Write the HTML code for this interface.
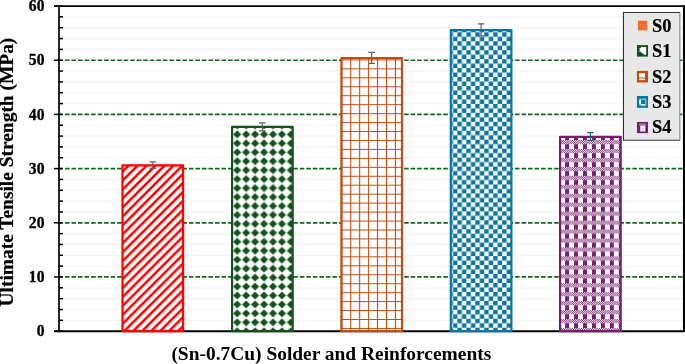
<!DOCTYPE html>
<html lang="en"><head><meta charset="utf-8"><title>Ultimate Tensile Strength chart</title>
<style>html,body{margin:0;padding:0;background:#fff;overflow:hidden}svg{display:block}text{font-family:"Liberation Serif","Times New Roman",serif;font-weight:bold;fill:#000}</style>
</head><body>
<svg width="685" height="364" viewBox="0 0 685 364">
<defs>
<pattern id="pRed" patternUnits="userSpaceOnUse" width="8.952" height="8.952" x="7.784" y="0"><rect width="8.952" height="8.952" fill="#fff"/><path d="M-8.952,8.952 L8.952,-8.952 M0,8.952 L8.952,0 M0,17.904 L17.904,0" stroke="#ff0000" stroke-width="2.6" fill="none"/></pattern>
<pattern id="pGreen" patternUnits="userSpaceOnUse" width="8.952" height="8.952" x="8.924" y="4.566"><rect width="8.952" height="8.952" fill="#fff"/><path d="M4.476,0.42600000000000016 L8.526,4.476 L4.476,8.526 L0.42600000000000016,4.476 Z" fill="#14521c"/></pattern>
<pattern id="pOrange" patternUnits="userSpaceOnUse" width="8.952" height="8.952" x="6.048" y="1.71"><rect width="8.952" height="8.952" fill="#fff"/><path d="M4.476,0 V8.952 M0,4.476 H8.952" stroke="#c04f15" stroke-width="1.15" fill="none"/></pattern>
<pattern id="pBlue" patternUnits="userSpaceOnUse" width="8.952" height="8.952" x="0.848" y="5.444"><rect width="8.952" height="8.952" fill="#fff"/><rect x="0" y="0" width="4.476" height="4.476" fill="#0c75a0"/><rect x="4.476" y="4.476" width="4.476" height="4.476" fill="#0c75a0"/></pattern>
<pattern id="pPurple" patternUnits="userSpaceOnUse" width="8.952" height="8.952" x="1.124" y="5.72"><rect width="8.952" height="8.952" fill="#fff"/><g fill="#771f6e"><rect x="0.000" y="0.000" width="1.119" height="1.041"/><rect x="2.238" y="0.000" width="1.119" height="1.041"/><rect x="4.476" y="0.000" width="1.119" height="1.041"/><rect x="6.714" y="0.000" width="1.119" height="1.041"/><rect x="1.119" y="1.041" width="1.119" height="1.041"/><rect x="3.357" y="1.041" width="1.119" height="1.041"/><rect x="5.595" y="1.041" width="1.119" height="1.041"/><rect x="7.833" y="1.041" width="1.119" height="1.041"/><rect x="0.000" y="2.081" width="1.119" height="1.041"/><rect x="2.238" y="2.081" width="1.119" height="1.041"/><rect x="4.476" y="2.081" width="1.119" height="1.041"/><rect x="6.714" y="2.081" width="1.119" height="1.041"/><rect x="1.119" y="3.122" width="1.119" height="1.041"/><rect x="3.357" y="3.122" width="1.119" height="1.041"/><rect x="5.595" y="3.122" width="1.119" height="1.041"/><rect x="7.833" y="3.122" width="1.119" height="1.041"/><rect x="0" y="4.163" width="4.0" height="4.789"/></g></pattern>
</defs>
<rect width="685" height="364" fill="#fff"/>
<line x1="59.0" x2="684.0" y1="320.31" y2="320.31" stroke="#f4f4f4" stroke-width="1.2"/>
<line x1="59.0" x2="684.0" y1="309.48" y2="309.48" stroke="#f4f4f4" stroke-width="1.2"/>
<line x1="59.0" x2="684.0" y1="298.64" y2="298.64" stroke="#f4f4f4" stroke-width="1.2"/>
<line x1="59.0" x2="684.0" y1="287.80" y2="287.80" stroke="#f4f4f4" stroke-width="1.2"/>
<line x1="59.0" x2="684.0" y1="266.13" y2="266.13" stroke="#f4f4f4" stroke-width="1.2"/>
<line x1="59.0" x2="684.0" y1="255.29" y2="255.29" stroke="#f4f4f4" stroke-width="1.2"/>
<line x1="59.0" x2="684.0" y1="244.46" y2="244.46" stroke="#f4f4f4" stroke-width="1.2"/>
<line x1="59.0" x2="684.0" y1="233.62" y2="233.62" stroke="#f4f4f4" stroke-width="1.2"/>
<line x1="59.0" x2="684.0" y1="211.95" y2="211.95" stroke="#f4f4f4" stroke-width="1.2"/>
<line x1="59.0" x2="684.0" y1="201.11" y2="201.11" stroke="#f4f4f4" stroke-width="1.2"/>
<line x1="59.0" x2="684.0" y1="190.27" y2="190.27" stroke="#f4f4f4" stroke-width="1.2"/>
<line x1="59.0" x2="684.0" y1="179.44" y2="179.44" stroke="#f4f4f4" stroke-width="1.2"/>
<line x1="59.0" x2="684.0" y1="157.76" y2="157.76" stroke="#f4f4f4" stroke-width="1.2"/>
<line x1="59.0" x2="684.0" y1="146.93" y2="146.93" stroke="#f4f4f4" stroke-width="1.2"/>
<line x1="59.0" x2="684.0" y1="136.09" y2="136.09" stroke="#f4f4f4" stroke-width="1.2"/>
<line x1="59.0" x2="684.0" y1="125.25" y2="125.25" stroke="#f4f4f4" stroke-width="1.2"/>
<line x1="59.0" x2="684.0" y1="103.58" y2="103.58" stroke="#f4f4f4" stroke-width="1.2"/>
<line x1="59.0" x2="684.0" y1="92.74" y2="92.74" stroke="#f4f4f4" stroke-width="1.2"/>
<line x1="59.0" x2="684.0" y1="81.91" y2="81.91" stroke="#f4f4f4" stroke-width="1.2"/>
<line x1="59.0" x2="684.0" y1="71.07" y2="71.07" stroke="#f4f4f4" stroke-width="1.2"/>
<line x1="59.0" x2="684.0" y1="49.40" y2="49.40" stroke="#f4f4f4" stroke-width="1.2"/>
<line x1="59.0" x2="684.0" y1="38.56" y2="38.56" stroke="#f4f4f4" stroke-width="1.2"/>
<line x1="59.0" x2="684.0" y1="27.72" y2="27.72" stroke="#f4f4f4" stroke-width="1.2"/>
<line x1="59.0" x2="684.0" y1="16.89" y2="16.89" stroke="#f4f4f4" stroke-width="1.2"/>
<line x1="58.45" x2="684.0" y1="276.97" y2="276.97" stroke="#14661f" stroke-width="1.7" stroke-dasharray="4.6 1.922"/>
<line x1="58.45" x2="684.0" y1="222.78" y2="222.78" stroke="#14661f" stroke-width="1.7" stroke-dasharray="4.6 1.922"/>
<line x1="58.45" x2="684.0" y1="168.60" y2="168.60" stroke="#14661f" stroke-width="1.7" stroke-dasharray="4.6 1.922"/>
<line x1="58.45" x2="684.0" y1="114.42" y2="114.42" stroke="#14661f" stroke-width="1.7" stroke-dasharray="4.6 1.922"/>
<line x1="58.45" x2="684.0" y1="60.23" y2="60.23" stroke="#14661f" stroke-width="1.7" stroke-dasharray="4.6 1.922"/>
<path d="M54,6.0 H684.0" fill="none" stroke="#000" stroke-width="1.75"/>
<path d="M684.0,5.2 V332.0" fill="none" stroke="#000" stroke-width="2.1"/>
<path d="M59.0,6.0 V331.15 " fill="none" stroke="#000" stroke-width="1.7"/>
<path d="M54,331.15 H684.0" fill="none" stroke="#000" stroke-width="2.0"/>
<line x1="54" x2="62.6" y1="331.15" y2="331.15" stroke="#000" stroke-width="1.5"/>
<line x1="59.0" x2="63" y1="320.31" y2="320.31" stroke="#000" stroke-width="1.5"/>
<line x1="59.0" x2="63" y1="309.48" y2="309.48" stroke="#000" stroke-width="1.5"/>
<line x1="59.0" x2="63" y1="298.64" y2="298.64" stroke="#000" stroke-width="1.5"/>
<line x1="59.0" x2="63" y1="287.80" y2="287.80" stroke="#000" stroke-width="1.5"/>
<line x1="54" x2="62.6" y1="276.97" y2="276.97" stroke="#000" stroke-width="1.5"/>
<line x1="59.0" x2="63" y1="266.13" y2="266.13" stroke="#000" stroke-width="1.5"/>
<line x1="59.0" x2="63" y1="255.29" y2="255.29" stroke="#000" stroke-width="1.5"/>
<line x1="59.0" x2="63" y1="244.46" y2="244.46" stroke="#000" stroke-width="1.5"/>
<line x1="59.0" x2="63" y1="233.62" y2="233.62" stroke="#000" stroke-width="1.5"/>
<line x1="54" x2="62.6" y1="222.78" y2="222.78" stroke="#000" stroke-width="1.5"/>
<line x1="59.0" x2="63" y1="211.95" y2="211.95" stroke="#000" stroke-width="1.5"/>
<line x1="59.0" x2="63" y1="201.11" y2="201.11" stroke="#000" stroke-width="1.5"/>
<line x1="59.0" x2="63" y1="190.27" y2="190.27" stroke="#000" stroke-width="1.5"/>
<line x1="59.0" x2="63" y1="179.44" y2="179.44" stroke="#000" stroke-width="1.5"/>
<line x1="54" x2="62.6" y1="168.60" y2="168.60" stroke="#000" stroke-width="1.5"/>
<line x1="59.0" x2="63" y1="157.76" y2="157.76" stroke="#000" stroke-width="1.5"/>
<line x1="59.0" x2="63" y1="146.93" y2="146.93" stroke="#000" stroke-width="1.5"/>
<line x1="59.0" x2="63" y1="136.09" y2="136.09" stroke="#000" stroke-width="1.5"/>
<line x1="59.0" x2="63" y1="125.25" y2="125.25" stroke="#000" stroke-width="1.5"/>
<line x1="54" x2="62.6" y1="114.42" y2="114.42" stroke="#000" stroke-width="1.5"/>
<line x1="59.0" x2="63" y1="103.58" y2="103.58" stroke="#000" stroke-width="1.5"/>
<line x1="59.0" x2="63" y1="92.74" y2="92.74" stroke="#000" stroke-width="1.5"/>
<line x1="59.0" x2="63" y1="81.91" y2="81.91" stroke="#000" stroke-width="1.5"/>
<line x1="59.0" x2="63" y1="71.07" y2="71.07" stroke="#000" stroke-width="1.5"/>
<line x1="54" x2="62.6" y1="60.23" y2="60.23" stroke="#000" stroke-width="1.5"/>
<line x1="59.0" x2="63" y1="49.40" y2="49.40" stroke="#000" stroke-width="1.5"/>
<line x1="59.0" x2="63" y1="38.56" y2="38.56" stroke="#000" stroke-width="1.5"/>
<line x1="59.0" x2="63" y1="27.72" y2="27.72" stroke="#000" stroke-width="1.5"/>
<line x1="59.0" x2="63" y1="16.89" y2="16.89" stroke="#000" stroke-width="1.5"/>
<line x1="54" x2="62.6" y1="6.05" y2="6.05" stroke="#000" stroke-width="1.5"/>
<rect x="122.50" y="165.30" width="60.60" height="165.85" fill="url(#pRed)" stroke="#ff0000" stroke-width="2.2" stroke-linejoin="round"/>
<rect x="232.10" y="126.95" width="60.60" height="204.20" fill="url(#pGreen)" stroke="#14521c" stroke-width="2.2" stroke-linejoin="round"/>
<rect x="341.40" y="58.20" width="60.60" height="272.95" fill="url(#pOrange)" stroke="#c04f15" stroke-width="2.2" stroke-linejoin="round"/>
<rect x="450.80" y="30.20" width="60.60" height="300.95" fill="url(#pBlue)" stroke="#0c75a0" stroke-width="2.2" stroke-linejoin="round"/>
<rect x="560.10" y="136.80" width="60.60" height="194.35" fill="url(#pPurple)" stroke="#771f6e" stroke-width="2.2" stroke-linejoin="round"/>
<path d="M152.8,161.9 V168.3 M149.5,161.9 H156.10000000000002 M149.5,168.3 H156.10000000000002" stroke="#636363" stroke-width="1.2" fill="none"/>
<path d="M262.3,122.9 V130.8 M259.0,122.9 H265.6 M259.0,130.8 H265.6" stroke="#636363" stroke-width="1.2" fill="none"/>
<path d="M371.7,52.3 V63.4 M368.4,52.3 H375.0 M368.4,63.4 H375.0" stroke="#636363" stroke-width="1.2" fill="none"/>
<path d="M481.1,23.85 V35.9 M477.8,23.85 H484.40000000000003 M477.8,35.9 H484.40000000000003" stroke="#636363" stroke-width="1.2" fill="none"/>
<path d="M590.5,132.6 V140.3 M587.2,132.6 H593.8 M587.2,140.3 H593.8" stroke="#1a6b7c" stroke-width="1.2" fill="none"/>
<rect x="623.45" y="12.5" width="56.5" height="127.8" fill="#e8e8e8"/>
<path d="M679.95,12.5 H623.45 V140.3 H679.95" fill="none" stroke="#333" stroke-width="1.1"/>
<path d="M679.85,12.5 V140.3" fill="none" stroke="#8c8c8c" stroke-width="1.2"/>
<text transform="translate(652,31.5) scale(0.97,1.03)" font-size="19" stroke="#000" stroke-width="0.2">S0</text>
<text transform="translate(652,57.0) scale(0.97,1.03)" font-size="19" stroke="#000" stroke-width="0.2">S1</text>
<text transform="translate(652,82.8) scale(0.97,1.03)" font-size="19" stroke="#000" stroke-width="0.2">S2</text>
<text transform="translate(652,108.0) scale(0.97,1.03)" font-size="19" stroke="#000" stroke-width="0.2">S3</text>
<text transform="translate(652,133.3) scale(0.97,1.03)" font-size="19" stroke="#000" stroke-width="0.2">S4</text>
<rect x="637.9" y="20.7" width="9.5" height="9.6" fill="#e97132"/>
<rect x="636.95" y="45.1" width="11.05" height="11.5" fill="#14521c"/>
<path d="M641.6,47 L646.2,47 L646.2,54.6 L644.7,54.9 L640.2,51.5 L638.8,51.5 L640.2,50 L638.8,48.5 L639.9,48.5 Z" fill="#fff"/>
<rect x="636.95" y="70.9" width="11.05" height="11.6" fill="#c04f15"/>
<rect x="639.1" y="73.2" width="5.9" height="4.2" fill="#fff"/><rect x="639.1" y="78.4" width="5.9" height="1.7" fill="#fff"/>
<rect x="636.95" y="96.0" width="11.05" height="11.8" fill="#0c75a0"/>
<rect x="640.0" y="99.2" width="5.7" height="5.7" fill="none" stroke="#fff" stroke-width="1.3" opacity="0.5"/><rect x="639.2" y="99.8" width="1.7" height="4.6" fill="#fff"/><rect x="640.9" y="104.2" width="4.2" height="1.4" fill="#fff"/>
<rect x="636.95" y="121.95" width="11.05" height="11.2" fill="#771f6e"/>
<rect x="639.2" y="123.5" width="6.7" height="2.2" fill="#fff" opacity="0.4"/><rect x="640.3" y="125.7" width="5.0" height="5.8" fill="#fff"/><rect x="642.5" y="128" width="0.7" height="3.5" fill="#771f6e" opacity="0.5"/>
<text transform="translate(44.5,336.35) scale(0.92,1.0)" font-size="17" text-anchor="end" stroke="#000" stroke-width="0.35">0</text>
<text transform="translate(44.5,282.17) scale(0.92,1.0)" font-size="17" text-anchor="end" stroke="#000" stroke-width="0.35">10</text>
<text transform="translate(44.5,227.98) scale(0.92,1.0)" font-size="17" text-anchor="end" stroke="#000" stroke-width="0.35">20</text>
<text transform="translate(44.5,173.80) scale(0.92,1.0)" font-size="17" text-anchor="end" stroke="#000" stroke-width="0.35">30</text>
<text transform="translate(44.5,119.62) scale(0.92,1.0)" font-size="17" text-anchor="end" stroke="#000" stroke-width="0.35">40</text>
<text transform="translate(44.5,65.43) scale(0.92,1.0)" font-size="17" text-anchor="end" stroke="#000" stroke-width="0.35">50</text>
<text transform="translate(44.5,11.25) scale(0.92,1.0)" font-size="17" text-anchor="end" stroke="#000" stroke-width="0.35">60</text>
<text transform="translate(331.3,360.3) scale(1,0.975)" font-size="19.45" text-anchor="middle">(Sn-0.7Cu) Solder and Reinforcements</text>
<text transform="translate(13.2,172.05) rotate(-90) scale(1,0.93)" font-size="19.43" stroke="#000" stroke-width="0.25" text-anchor="middle">Ultimate Tensile Strength (MPa)</text>
</svg></body></html>
